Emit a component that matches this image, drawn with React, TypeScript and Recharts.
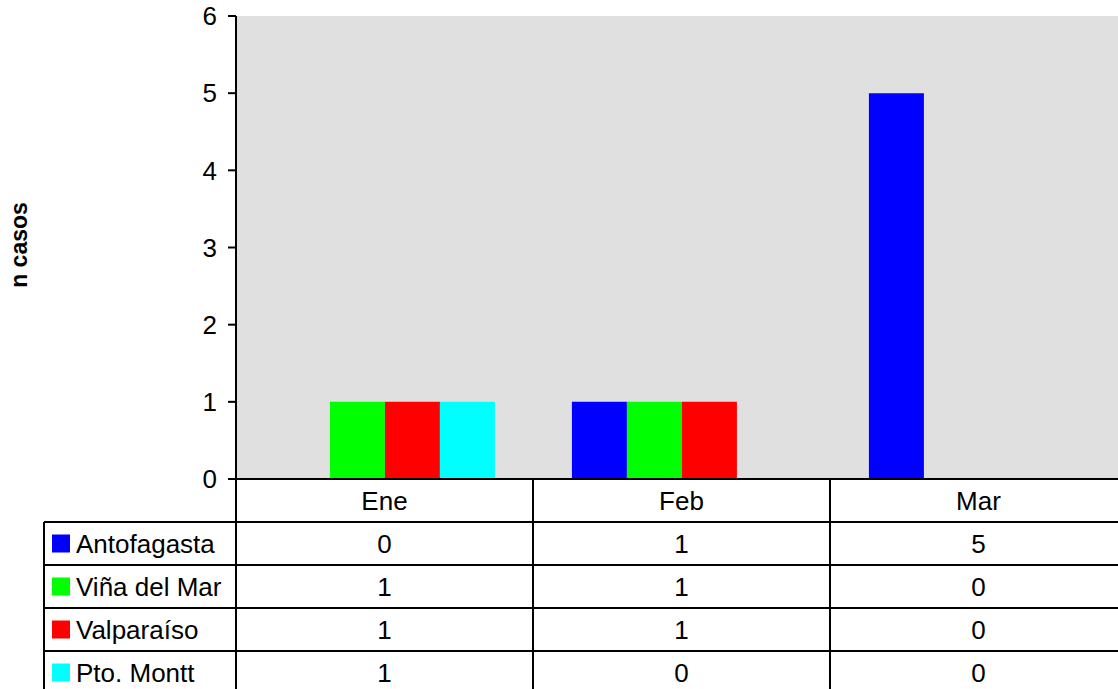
import { BarChart, Bar, XAxis, YAxis, CartesianGrid } from "recharts";

const months = ["Ene", "Feb", "Mar"];
const antofagasta = [0, 1, 5];
const vinaDelMar = [1, 1, 0];
const valparaiso = [1, 1, 0];
const ptoMontt = [1, 0, 0];
const yTicks = [0, 1, 2, 3, 4, 5, 6];

const series = [
  { key: "antofagasta", name: "Antofagasta", color: "#0000FF", values: antofagasta },
  { key: "vina", name: "Viña del Mar", color: "#00FF00", values: vinaDelMar },
  { key: "valpo", name: "Valparaíso", color: "#FF0000", values: valparaiso },
  { key: "montt", name: "Pto. Montt", color: "#00FFFF", values: ptoMontt },
];

const data = months.map((m, i) => {
  const row: Record<string, string | number> = { month: m };
  series.forEach((s) => (row[s.key] = s.values[i]));
  return row;
});

const FONT = "'Liberation Sans', Arial, sans-serif";
const FS = 26;
const CHART_W = 1127;
const CHART_H = 700;
const AXIS_W = 236;
const TOP = 16;
const PLOT_BOTTOM = 479;
const ROW_H = 43;
const BAND = (CHART_W - AXIS_W) / months.length;
const TABLE_LEFT = 44;

function TableColumn(props: any) {
  const { x, payload } = props;
  const i = payload.index;
  const left = x - BAND / 2;
  const right = x + BAND / 2;
  const rows = [0, 1, 2, 3, 4].map((r) => PLOT_BOTTOM + ROW_H * (r + 1));
  return (
    <g>
      <line x1={left} y1={PLOT_BOTTOM} x2={left} y2={CHART_H} stroke="#000" strokeWidth={2} />
      <line x1={right} y1={PLOT_BOTTOM} x2={right} y2={CHART_H} stroke="#000" strokeWidth={2} />
      {rows.map((y) => (
        <line key={y} x1={left} y1={y} x2={right} y2={y} stroke="#000" strokeWidth={2} />
      ))}
      <text
        x={x}
        y={PLOT_BOTTOM + ROW_H / 2}
        textAnchor="middle"
        dominantBaseline="central"
        fontFamily={FONT}
        fontSize={FS}
        fill="#000"
      >
        {payload.value}
      </text>
      {series.map((s, r) => (
        <text
          key={s.key}
          x={x}
          y={PLOT_BOTTOM + ROW_H * (r + 1) + ROW_H / 2}
          textAnchor="middle"
          dominantBaseline="central"
          fontFamily={FONT}
          fontSize={FS}
          fill="#000"
        >
          {s.values[i]}
        </text>
      ))}
    </g>
  );
}

function LegendColumn() {
  const rows = [0, 1, 2, 3, 4].map((r) => PLOT_BOTTOM + ROW_H * (r + 1));
  return (
    <svg
      width={AXIS_W + 2}
      height={CHART_H}
      style={{ position: "absolute", left: 0, top: 0, pointerEvents: "none" }}
    >
      <line x1={TABLE_LEFT} y1={rows[0]} x2={TABLE_LEFT} y2={CHART_H} stroke="#000" strokeWidth={2} />
      {rows.map((y) => (
        <line key={y} x1={TABLE_LEFT} y1={y} x2={AXIS_W} y2={y} stroke="#000" strokeWidth={2} />
      ))}
      {series.map((s, r) => {
        const cy = rows[r] + ROW_H / 2;
        return (
          <g key={s.key}>
            <rect x={52} y={cy - 9} width={18} height={18} fill={s.color} />
            <text
              x={76}
              y={cy}
              dominantBaseline="central"
              fontFamily={FONT}
              fontSize={FS}
              fill="#000"
            >
              {s.name}
            </text>
          </g>
        );
      })}
    </svg>
  );
}

export default function App() {
  return (
    <div
      style={{
        position: "absolute",
        left: 0,
        top: 0,
        width: 1118,
        height: 689,
        overflow: "hidden",
        background: "#fff",
      }}
    >
      <BarChart
        width={CHART_W}
        height={CHART_H}
        data={data}
        margin={{ top: TOP, right: 0, left: 0, bottom: 0 }}
        barCategoryGap="13.1%"
        barGap={0}
      >
        <CartesianGrid fill="#E0E0E0" horizontal={false} vertical={false} />
        <XAxis
          dataKey="month"
          height={CHART_H - PLOT_BOTTOM}
          axisLine={{ stroke: "#000", strokeWidth: 2 }}
          tickLine={false}
          interval={0}
          tick={(p: any) => <TableColumn {...p} />}
        />
        <YAxis
          width={AXIS_W}
          domain={[0, 6]}
          ticks={yTicks}
          interval={0}
          axisLine={{ stroke: "#000", strokeWidth: 2 }}
          tickLine={{ stroke: "#000", strokeWidth: 2 }}
          tickSize={8}
          tickMargin={11}
          tick={{ fill: "#000", fontSize: FS, fontFamily: FONT }}
          label={{
            content: () => (
              <text
                x={27}
                y={245}
                transform="rotate(-90 27 245)"
                textAnchor="middle"
                fontFamily={FONT}
                fontSize={23}
                fontWeight="bold"
                fill="#000"
              >
                n casos
              </text>
            ),
          }}
        />
        {series.map((s) => (
          <Bar
            key={s.key}
            dataKey={s.key}
            name={s.name}
            fill={s.color}
            isAnimationActive={false}
          />
        ))}
      </BarChart>
      <LegendColumn />
    </div>
  );
}
